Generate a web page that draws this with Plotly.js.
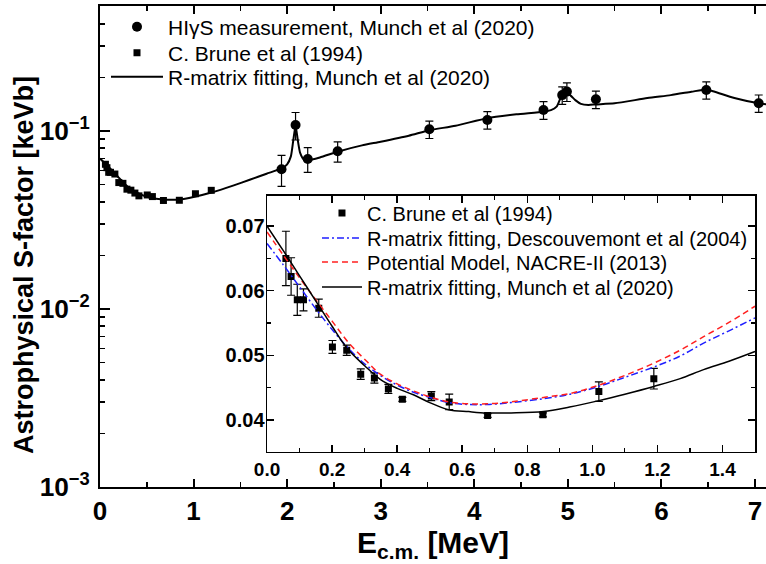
<!DOCTYPE html>
<html><head><meta charset="utf-8">
<script src="https://cdn.plot.ly/plotly-3.0.1.min.js"></script>
<style>html,body{margin:0;padding:0;background:#fff;overflow:hidden}</style>
</head><body><div id="chart" style="width:766px;height:564px"></div>
<script>
// HIgS measurement, Munch et al (2020)
const hisE = [1.94, 2.09, 2.22, 2.54, 3.52, 4.14, 4.74, 4.94, 4.99, 5.30, 6.48, 7.04];
const hisS = [0.0609, 0.108, 0.0696, 0.0769, 0.1022, 0.1153, 0.1312, 0.159, 0.1664, 0.1506, 0.1699, 0.1432];
const hisErr = [0.012, 0.019, 0.011, 0.010, 0.0115, 0.013, 0.015, 0.018, 0.020, 0.017, 0.019, 0.016];

// C. Brune et al (1994)
const bruneE = [0.058, 0.074, 0.093, 0.112, 0.159, 0.201, 0.245, 0.288, 0.330, 0.373, 0.416, 0.505, 0.560, 0.678, 0.848, 1.020, 1.189];
const bruneS = [0.0650, 0.0622, 0.0586, 0.0586, 0.0573, 0.0513, 0.0508, 0.0471, 0.0465, 0.0448, 0.0432, 0.0437, 0.0428, 0.0407, 0.0408, 0.0444, 0.0464];
const bruneErr = [0.0042, 0.0029, 0.0024, 0.0017, 0.0014, 0.0010, 0.0008, 0.0008, 0.0008, 0.0007, 0.0003, 0.0007, 0.0012, 0.0003, 0.0003, 0.0015, 0.0016];

// R-matrix fitting, Munch et al (2020) - full range
const munchE = [0, 0.1, 0.2, 0.3, 0.4, 0.5, 0.6, 0.7, 0.85, 1.0, 1.2, 1.43, 1.6, 1.78, 1.94, 2.0, 2.04, 2.065, 2.09, 2.115, 2.14, 2.18, 2.22, 2.35, 2.54, 2.8, 3.0, 3.3, 3.52, 3.8, 4.14, 4.45, 4.74, 4.82, 4.88, 4.93, 4.98, 5.03, 5.08, 5.14, 5.22, 5.30, 5.5, 5.85, 6.1, 6.32, 6.48, 6.57, 6.78, 7.04, 7.15];
const munchS = [0.0700, 0.0622, 0.0547, 0.0484, 0.0449, 0.0427, 0.0416, 0.0411, 0.0412, 0.0426, 0.0453, 0.0495, 0.0532, 0.0575, 0.0616, 0.0650, 0.0720, 0.0880, 0.1070, 0.0880, 0.0750, 0.0690, 0.0685, 0.0710, 0.0765, 0.0830, 0.0870, 0.0940, 0.1010, 0.1070, 0.1180, 0.1240, 0.1284, 0.1310, 0.1370, 0.1560, 0.1640, 0.1580, 0.1490, 0.1420, 0.1400, 0.1410, 0.1430, 0.1530, 0.1590, 0.1660, 0.1710, 0.1660, 0.1530, 0.1430, 0.1410];

// Inset curves (0 - 1.5 MeV)
const insMunchE = [0, 0.05, 0.1, 0.159, 0.2, 0.246, 0.3, 0.348, 0.4, 0.45, 0.5, 0.558, 0.62, 0.676, 0.75, 0.85, 0.93, 1.02, 1.1, 1.189, 1.27, 1.342, 1.42, 1.5];
const insMunchS = [0.0700, 0.0662, 0.0623, 0.0577, 0.0545, 0.0511, 0.0484, 0.0463, 0.0449, 0.0439, 0.0427, 0.0416, 0.0413, 0.0411, 0.0411, 0.0413, 0.0420, 0.0430, 0.0440, 0.0452, 0.0464, 0.0478, 0.0491, 0.0506];
const nacreE = [0, 0.05, 0.1, 0.15, 0.2, 0.25, 0.308, 0.348, 0.4, 0.45, 0.5, 0.558, 0.62, 0.676, 0.75, 0.85, 0.932, 1.02, 1.1, 1.189, 1.27, 1.342, 1.42, 1.5];
const nacreS = [0.0691, 0.0655, 0.0620, 0.0586, 0.0553, 0.0520, 0.0490, 0.0471, 0.0456, 0.0445, 0.0436, 0.0428, 0.0425, 0.0425, 0.0428, 0.0435, 0.0441, 0.0454, 0.0469, 0.0488, 0.0508, 0.0529, 0.0551, 0.0576];
const descE = [0, 0.05, 0.1, 0.15, 0.2, 0.25, 0.3, 0.348, 0.4, 0.45, 0.5, 0.558, 0.62, 0.676, 0.75, 0.85, 0.932, 1.02, 1.1, 1.189, 1.27, 1.342, 1.42, 1.5];
const descS = [0.0673, 0.0640, 0.0606, 0.0572, 0.0540, 0.0511, 0.0487, 0.0469, 0.0454, 0.0443, 0.0435, 0.0427, 0.0424, 0.0424, 0.0427, 0.0433, 0.0440, 0.0452, 0.0466, 0.0482, 0.0499, 0.0519, 0.0538, 0.0558];

const F = 'Liberation Sans, Arial, sans-serif';

const traces = [
  {x: hisE, y: hisS, type: 'scatter', mode: 'markers', name: 'HI\u03b3S measurement, Munch et al (2020)',
   marker: {symbol: 'circle', size: 10, color: '#000'},
   error_y: {type: 'data', array: hisErr, visible: true, color: '#000', thickness: 1.2, width: 4},
   xaxis: 'x', yaxis: 'y', legend: 'legend'},
  {x: bruneE, y: bruneS, type: 'scatter', mode: 'markers', name: 'C. Brune et al (1994)',
   marker: {symbol: 'square', size: 7, color: '#000'},
   xaxis: 'x', yaxis: 'y', legend: 'legend3'},
  {x: munchE, y: munchS, type: 'scatter', mode: 'lines', name: 'R-matrix fitting, Munch et al (2020)',
   line: {color: '#000', width: 2, shape: 'spline', smoothing: 0.6},
   xaxis: 'x', yaxis: 'y', legend: 'legend4'},

  {x: bruneE, y: bruneS, type: 'scatter', mode: 'markers', name: 'C. Brune et al (1994)',
   marker: {symbol: 'square', size: 7, color: '#000'},
   error_y: {type: 'data', array: bruneErr, visible: true, color: '#000', thickness: 1.2, width: 4},
   xaxis: 'x2', yaxis: 'y2', legend: 'legend2'},
  {x: descE, y: descS, type: 'scatter', mode: 'lines', name: 'R-matrix fitting, Descouvemont et al (2004)',
   line: {color: '#1f1fff', width: 1.5, dash: '7px,3px,2px,3px', shape: 'spline'},
   xaxis: 'x2', yaxis: 'y2', legend: 'legend5'},
  {x: nacreE, y: nacreS, type: 'scatter', mode: 'lines', name: 'Potential Model, NACRE-II (2013)',
   line: {color: '#ff2020', width: 1.5, dash: '6px,4px', shape: 'spline'},
   xaxis: 'x2', yaxis: 'y2', legend: 'legend6'},
  {x: insMunchE, y: insMunchS, type: 'scatter', mode: 'lines', name: 'R-matrix fitting, Munch et al (2020)',
   line: {color: '#000', width: 1.5, shape: 'spline'},
   xaxis: 'x2', yaxis: 'y2', legend: 'legend7'}
];

const axisCommon = {showgrid: false, zeroline: false, showline: true, linecolor: '#000', ticks: 'inside', tickcolor: '#000'};

function leg(x, y, size, iw) {
  return {x: x, y: y, xanchor: 'left', yanchor: 'middle', bgcolor: 'rgba(0,0,0,0)',
    font: {family: F, size: size, color: '#000'}, itemwidth: iw, tracegroupgap: 0, borderwidth: 0};
}

const layout = {
  width: 766, height: 564,
  margin: {l: 100, r: 0, t: 6, b: 77, pad: 0},
  paper_bgcolor: '#fff', plot_bgcolor: '#fff',
  font: {family: F, color: '#000'},
  showlegend: true,
  xaxis: Object.assign({}, axisCommon, {
    domain: [0, 1], range: [0, 7.118], dtick: 1, tick0: 0, ticklen: 8, tickwidth: 2, linewidth: 2,
    mirror: 'ticks', anchor: 'y',
    minor: {dtick: 0.5, ticks: 'inside', ticklen: 5, tickwidth: 1.5, tickcolor: '#000'},
    tickfont: {family: F, size: 26, weight: 'bold', color: '#000'}
  }),
  yaxis: Object.assign({}, axisCommon, {
    type: 'log', domain: [0, 1], range: [-3, -0.298], dtick: 1, exponentformat: 'power',
    ticklen: 10, tickwidth: 2, linewidth: 2, anchor: 'x', ticklabelstandoff: 4,
    minor: {dtick: 'D1', ticks: 'inside', ticklen: 5, tickwidth: 1.5, tickcolor: '#000'},
    tickfont: {family: F, size: 21, weight: 'bold', color: '#000'}
  }),
  xaxis2: Object.assign({}, axisCommon, {
    domain: [0.2508, 0.9835], range: [0, 1.5], dtick: 0.2, tick0: 0, tickformat: '.1f',
    ticklen: 7, tickwidth: 1.5, linewidth: 1.5, mirror: 'ticks', anchor: 'y2',
    minor: {dtick: 0.1, ticks: 'inside', ticklen: 4, tickwidth: 1.2, tickcolor: '#000'},
    tickfont: {family: F, size: 19, weight: 'bold', color: '#000'}
  }),
  yaxis2: Object.assign({}, axisCommon, {
    domain: [0.0734, 0.6056], range: [0.0351, 0.0747], dtick: 0.01, tick0: 0.04, tickformat: '.2f',
    ticklen: 7, tickwidth: 1.5, linewidth: 1.5, mirror: 'ticks', anchor: 'x2', ticklabelstandoff: -3,
    minor: {dtick: 0.005, ticks: 'inside', ticklen: 4, tickwidth: 1.2, tickcolor: '#000'},
    tickfont: {family: F, size: 20, weight: 'bold', color: '#000'}
  }),
  legend: leg(0.009, 0.9563, 21, 52),
  legend3: leg(0.009, 0.9023, 21, 52),
  legend4: leg(0.009, 0.8524, 21, 52),
  legend2: leg(0.3258, 0.5696, 20, 40),
  legend5: leg(0.3258, 0.5177, 20, 40),
  legend6: leg(0.3258, 0.4678, 20, 40),
  legend7: leg(0.3258, 0.4158, 20, 40),
  annotations: [
    {text: 'Astrophysical S-factor [keVb]', textangle: -90, xref: 'paper', yref: 'paper',
     x: -0.114, y: 0.4615, xanchor: 'center', yanchor: 'middle', showarrow: false,
     font: {family: F, size: 27, weight: 'bold', color: '#000'}},
    {text: 'E<sub>c.m.</sub> [MeV]', xref: 'paper', yref: 'paper',
     x: 0.5, y: -0.12, xanchor: 'center', yanchor: 'middle', showarrow: false,
     font: {family: F, size: 30, weight: 'bold', color: '#000'}}
  ]
};

Plotly.newPlot('chart', traces, layout, {displayModeBar: false, staticPlot: true});
</script></body></html>
